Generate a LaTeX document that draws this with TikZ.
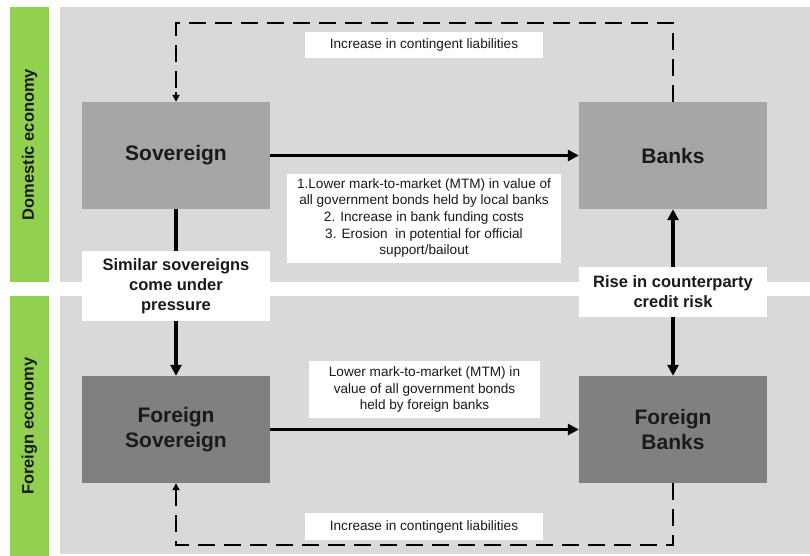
\documentclass[tikz,border=0pt]{standalone}
\usepackage{fontspec}
\setmainfont{Liberation Sans}
\usetikzlibrary{arrows.meta}
\definecolor{panelgrey}{HTML}{D9D9D9}
\definecolor{ecogreen}{HTML}{92D050}
\definecolor{boxlight}{HTML}{A6A6A6}
\definecolor{boxdark}{HTML}{808080}
\definecolor{ink}{HTML}{1A1A1A}
\begin{document}
\begin{tikzpicture}[x=1pt,y=-1pt,
  entity/.style={minimum width=188pt, minimum height=107pt, inner sep=0pt, align=center, text=ink,
    font=\bfseries\fontsize{21}{25}\selectfont},
  notebox/.style={fill=white, inner sep=0pt, align=center, text=ink,
    font=\fontsize{13.6}{16.7}\selectfont},
  boldbox/.style={fill=white, inner sep=0pt, align=center, text=ink,
    font=\bfseries\fontsize{16.5}{20}\selectfont},
  ecolabel/.style={rotate=90, text=ink, font=\bfseries\fontsize{16.5}{20}\selectfont},
  solidarrow/.style={line width=3.8pt, draw=black, -{Triangle[length=11pt,width=11pt]}},
  dashline/.style={line width=2.8pt, draw=black, dash pattern=on 17pt off 9pt},
  dashtip/.style={-{Triangle[length=7pt,width=7pt]}}
]
\useasboundingbox (0,0) rectangle (810,556);
% panels
\fill[ecogreen] (10,7) rectangle (49,282);
\fill[ecogreen] (10,296) rectangle (49,556);
\fill[panelgrey] (60,7) rectangle (810,282);
\fill[panelgrey] (60,296) rectangle (810,554);
\node[ecolabel] (domlab) at (29.5,144.5) {Domestic economy};
\node[ecolabel] (forlab) at (29.5,426) {Foreign economy};
% entities
\node[entity, fill=boxlight] (sov) at (176,155.5) {Sovereign};
\node[entity, fill=boxlight] (banks) at (673,155.5) {Banks};
\node[entity, fill=boxdark] (fsov) at (176,429.5) {Foreign\\Sovereign};
\node[entity, fill=boxdark] (fbanks) at (673,429.5) {Foreign\\Banks};
% dashed feedback loops
\coordinate (toprow) at (0,23);
\coordinate (botrow) at (0,545);
\draw[dashline] (banks.north) -- (banks.north |- toprow) -- (sov.north |- toprow) -- ([yshift=6pt]sov.north);
\draw[dashtip, line width=1.8pt] ([yshift=10pt]sov.north) -- (sov.north);
\draw[dashline] (fbanks.south) -- (fbanks.south |- botrow) -- (fsov.south |- botrow) -- ([yshift=-6pt]fsov.south);
\draw[dashtip, line width=1.8pt] ([yshift=-10pt]fsov.south) -- (fsov.south);
% solid arrows
\draw[solidarrow] (sov.east) -- (banks.west);
\draw[solidarrow] (fsov.east) -- (fbanks.west);
\draw[solidarrow] (sov.south) -- (fsov.north);
\draw[solidarrow, {Triangle[length=11pt,width=11pt]}-{Triangle[length=11pt,width=11pt]}] (fbanks.north) -- (banks.south);
% labels
\node[notebox, minimum width=238pt, minimum height=26pt] (toplab) at (424,45) {Increase in contingent liabilities};
\node[notebox, minimum width=238pt, minimum height=27pt] (botlab) at (424,526.5) {Increase in contingent liabilities};
\node[notebox, minimum width=274pt, minimum height=89pt] (domnote) at (424,218)
  {1.Lower mark-to-market (MTM) in value of\\ all government bonds held by local banks\\2. Increase in bank funding costs\\3. Erosion\ \ in potential for official\\support/bailout};
\node[notebox, minimum width=231pt, minimum height=57pt] (fornote) at (424.5,389.5)
  {Lower mark-to-market (MTM) in\\value of all government bonds\\held by foreign banks};
\node[boldbox, minimum width=188pt, minimum height=70pt] (simlab) at (176,286) {Similar sovereigns\\come under\\pressure};
\node[boldbox, minimum width=188pt, minimum height=50pt] (risklab) at (673,292) {Rise in counterparty\\credit risk};
\end{tikzpicture}
\end{document}
